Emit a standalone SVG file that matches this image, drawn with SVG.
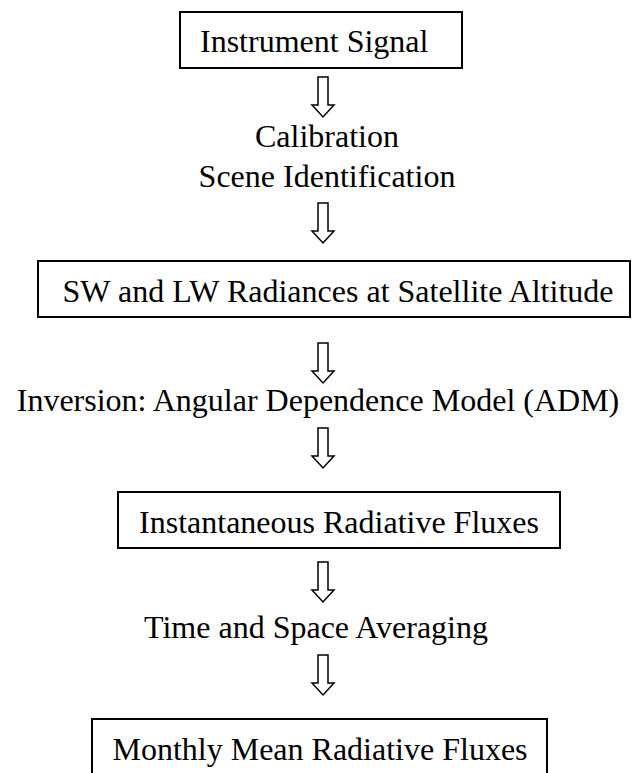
<svg xmlns="http://www.w3.org/2000/svg" width="635" height="773" viewBox="0 0 635 773">
  <defs>
    <style>
      .box { fill: #ffffff; stroke: #000000; stroke-width: 2; }
      .lbl { font-family: "Liberation Serif", "Times New Roman", serif; font-size: 32px; fill: #000000; }
      .arrow { fill: #ffffff; stroke: #000000; stroke-width: 1.5; stroke-linejoin: miter; }
    </style>
    <!-- hollow block arrow pointing down, drawn with its top-center at the origin -->
    <polygon id="downArrow" class="arrow" points="-5,0 5,0 5,28 11,28 0,40 -11,28 -5,28"/>
  </defs>
  <rect width="635" height="773" fill="#ffffff"/>

  <g id="instrument-signal">
    <rect class="box" x="180" y="12" width="282" height="56"/>
    <text class="lbl" x="200" y="52">Instrument Signal</text>
  </g>

  <g id="calibration-step">
    <text class="lbl" x="327" y="147" text-anchor="middle">Calibration</text>
    <text class="lbl" x="327" y="187" text-anchor="middle">Scene Identification</text>
  </g>

  <g id="radiances">
    <rect class="box" x="38" y="261" width="592" height="56"/>
    <text class="lbl" x="338" y="302" text-anchor="middle">SW and LW Radiances at Satellite Altitude</text>
  </g>

  <g id="inversion-step">
    <text class="lbl" x="318" y="411" text-anchor="middle">Inversion: Angular Dependence Model (ADM)</text>
  </g>

  <g id="instantaneous-fluxes">
    <rect class="box" x="118" y="492" width="442" height="56"/>
    <text class="lbl" x="339" y="533" text-anchor="middle">Instantaneous Radiative Fluxes</text>
  </g>

  <g id="averaging-step">
    <text class="lbl" x="316" y="638" text-anchor="middle">Time and Space Averaging</text>
  </g>

  <g id="monthly-fluxes">
    <path class="box" d="M92,775 V719 H547 V775"/>
    <text class="lbl" x="320" y="760" text-anchor="middle">Monthly Mean Radiative Fluxes</text>
  </g>

  <g id="connectors">
    <use href="#downArrow" x="323" y="77"/>
    <use href="#downArrow" x="323" y="203"/>
    <use href="#downArrow" x="323" y="343"/>
    <use href="#downArrow" x="323" y="428"/>
    <use href="#downArrow" x="323" y="562"/>
    <use href="#downArrow" x="323" y="655"/>
  </g>
</svg>
